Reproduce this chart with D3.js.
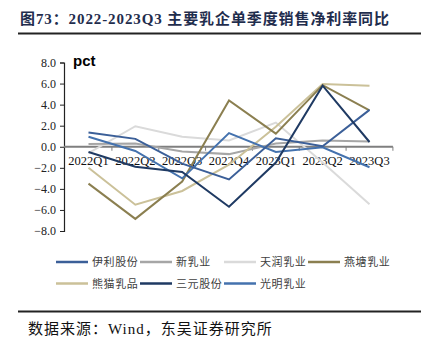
<!DOCTYPE html>
<html lang="zh">
<head>
<meta charset="UTF-8">
<title>主要乳企单季度销售净利率同比</title>
<script src="https://d3js.org/d3.v7.min.js"></script>
<style>
  body { margin: 0; background: #fff; }
  svg text { font-family: "Liberation Serif", "Noto Sans CJK SC", serif; }
</style>
</head>
<body>
<div id="chart"></div>
<script>
// quarters on the x axis
const quarters = ["2022Q1", "2022Q2", "2022Q3", "2022Q4", "2023Q1", "2023Q2", "2023Q3"];
const yTicks = [8, 6, 4, 2, 0, -2, -4, -6, -8];

// yoy change of quarterly net margin, pct
const yili     = [1.35, 0.75, -1.6, -3.1, 0.8, 0.05, 3.5];
const xinru    = [0.25, 0.3, -0.45, -0.7, 0.3, 0.6, 0.5];
const tianrun  = [-0.6, 1.95, 0.95, 0.6, 2.3, -1.5, -5.45];
const yantang  = [-3.5, -6.85, -3.3, 4.4, 1.25, 5.85, 3.45];
const xiongmao = [-2.0, -5.5, -4.2, -1.7, 1.9, 5.95, 5.8];
const sanyuan  = [-0.5, -1.9, -2.4, -5.7, -1.5, 5.8, 0.45];
const guangming = [0.95, -0.4, -3.0, 1.3, -0.5, -0.05, -1.95];

const names  = ["伊利股份", "新乳业", "天润乳业", "燕塘乳业", "熊猫乳品", "三元股份", "光明乳业"];
const colors = ["#3b5f98", "#a6a6a6", "#dadada", "#8b7f50", "#cbc199", "#1f3a63", "#4472ae"];
const seriesValues = [yili, xinru, tianrun, yantang, xiongmao, sanyuan, guangming];

const W = 437, H = 351;
const svg = d3.select("#chart").append("svg")
  .attr("width", W).attr("height", H);

// title and rules
svg.append("text")
  .attr("x", 20).attr("y", 24)
  .attr("fill", "#1f2d4d")
  .attr("font-size", 15).attr("font-weight", "bold")
  .attr("letter-spacing", 0.9)
  .text("图73：2022-2023Q3 主要乳企单季度销售净利率同比");
svg.append("line").attr("x1", 18).attr("x2", 421).attr("y1", 33.5).attr("y2", 33.5)
  .attr("stroke", "#222").attr("stroke-width", 2);
svg.append("line").attr("x1", 18).attr("x2", 421).attr("y1", 311.5).attr("y2", 311.5)
  .attr("stroke", "#222").attr("stroke-width", 2);
svg.append("text")
  .attr("x", 28).attr("y", 334)
  .attr("fill", "#111").attr("font-size", 15)
  .attr("letter-spacing", 1)
  .text("数据来源：Wind，东吴证券研究所");

// scales
const x = d3.scalePoint().domain(quarters).range([88.5, 369.5]);
const y = d3.scaleLinear().domain([-8, 8]).range([231, 62.5]);

// y axis
const yAxis = svg.append("g")
  .attr("transform", "translate(64,0)")
  .call(d3.axisLeft(y).tickValues(yTicks).tickFormat(d3.format(".1f")).tickSize(4).tickPadding(4));
yAxis.select(".domain").attr("stroke", "#222").attr("stroke-width", 1.2);
yAxis.selectAll(".tick line").attr("stroke", "#222");
yAxis.selectAll(".tick text").attr("font-size", 12).attr("fill", "#222")
  .attr("font-family", "Liberation Serif, serif");

// x axis along zero
const step = x.step();
const xAxis = svg.append("g").attr("transform", `translate(0,${y(0)})`);
xAxis.append("line")
  .attr("x1", 64).attr("x2", x(quarters[quarters.length - 1]) + step / 2)
  .attr("stroke", "#7f7f7f").attr("stroke-width", 2);
xAxis.selectAll(".xt")
  .data(quarters.slice(1).concat(["end"]))
  .join("line")
  .attr("x1", (d, i) => x(quarters[i]) + step / 2)
  .attr("x2", (d, i) => x(quarters[i]) + step / 2)
  .attr("y1", 0).attr("y2", 4)
  .attr("stroke", "#7f7f7f");
xAxis.selectAll(".xl")
  .data(quarters)
  .join("text")
  .attr("x", d => x(d))
  .attr("y", 18)
  .attr("text-anchor", "middle")
  .attr("font-size", 12.5).attr("fill", "#111")
  .text(d => d);

// unit label
svg.append("text")
  .attr("x", 73).attr("y", 66)
  .attr("font-size", 15).attr("font-weight", "bold").attr("fill", "#000")
  .style("font-family", "'Liberation Sans', Arial, sans-serif")
  .text("pct");

// lines
const line = d3.line()
  .x((d, i) => x(quarters[i]))
  .y(d => y(d));

const drawOrder = [2, 1, 4, 3, 6, 0, 5];
svg.append("g").selectAll("path")
  .data(drawOrder)
  .join("path")
  .attr("d", k => line(seriesValues[k]))
  .attr("fill", "none")
  .attr("stroke", k => colors[k])
  .attr("stroke-width", 2);

// legend
const legend = svg.append("g");
names.forEach((name, i) => {
  const col = i % 4, row = Math.floor(i / 4);
  const lx = 56 + col * 84, ly = 262 + row * 21.5;
  const g = legend.append("g").attr("transform", `translate(${lx},${ly})`);
  g.append("line").attr("x1", 0).attr("x2", 32).attr("y1", 0).attr("y2", 0)
    .attr("stroke", colors[i]).attr("stroke-width", 2.5);
  g.append("text").attr("x", 36).attr("y", 4.2)
    .attr("font-size", 11).attr("fill", "#404040")
    .attr("letter-spacing", 0.6)
    .text(name);
});
</script>
</body>
</html>
